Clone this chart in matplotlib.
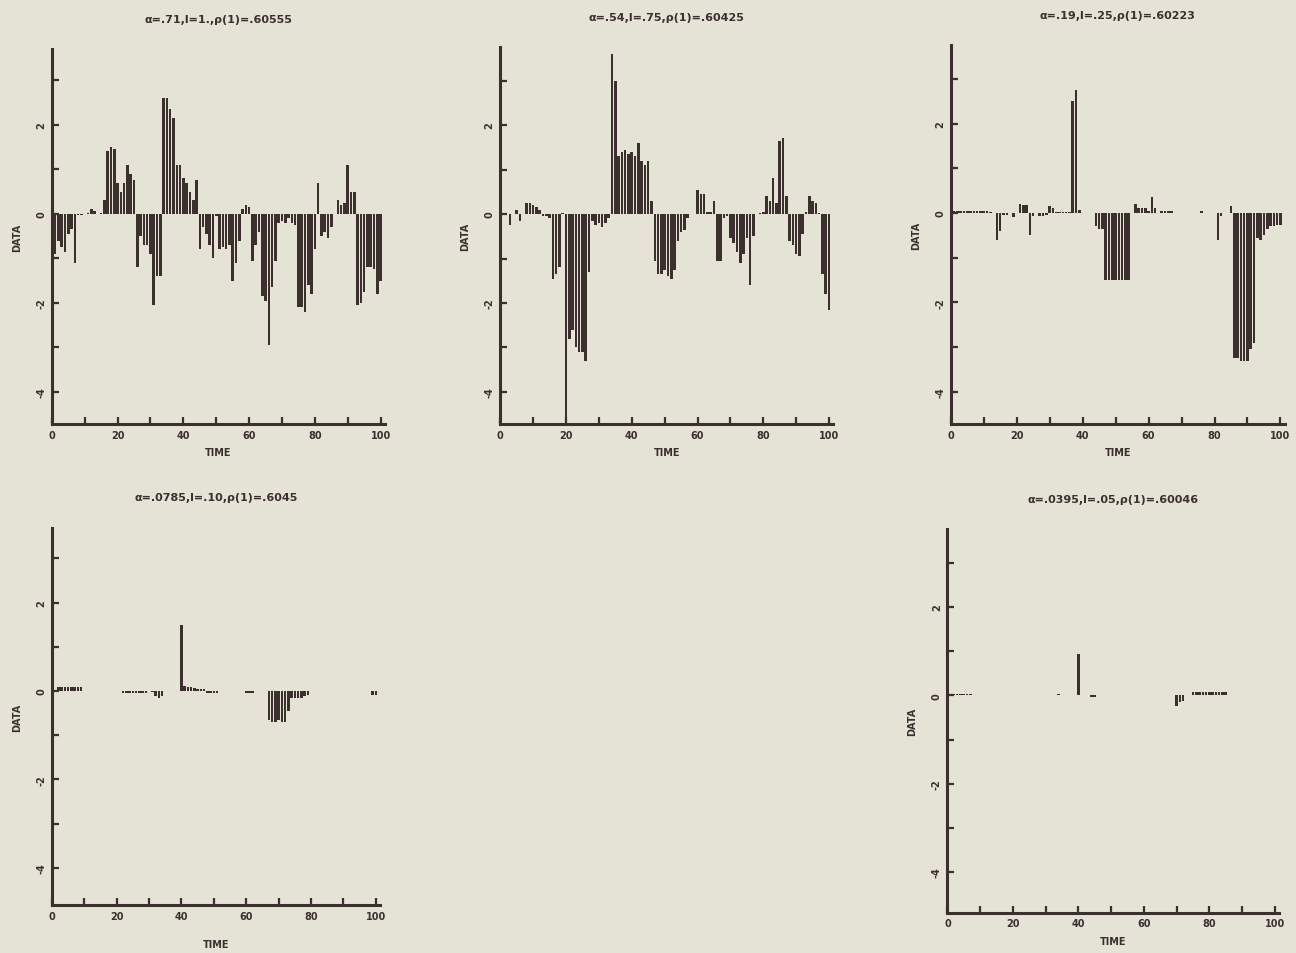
import matplotlib
matplotlib.use("Agg")
import matplotlib.pyplot as plt
from matplotlib.ticker import MultipleLocator

# ---- data -----------------------------------------------------------------
TIME = list(range(1, 101))

TITLES = [
    "α=.71,l=1.,ρ(1)=.60555",
    "α=.54,l=.75,ρ(1)=.60425",
    "α=.19,l=.25,ρ(1)=.60223",
    "α=.0785,l=.10,ρ(1)=.6045",
    "α=.0395,l=.05,ρ(1)=.60046",
]

SERIES_1 = [
    -0.90, -0.60, -0.75, -0.85, -0.45, -0.35, -1.10, -0.03, -0.03, 0.00,
    0.03, 0.10, 0.06, 0.00, 0.03, 0.30, 1.40, 1.50, 1.45, 0.70,
    0.50, 0.70, 1.10, 0.90, 0.75, -1.20, -0.50, -0.70, -0.70, -0.90,
    -2.05, -1.40, -1.40, 2.60, 2.60, 2.35, 2.15, 1.10, 1.10, 0.80,
    0.70, 0.50, 0.30, 0.75, -0.80, -0.30, -0.45, -0.70, -1.00, -0.05,
    -0.80, -0.75, -0.80, -0.70, -1.50, -1.10, -0.60, 0.10, 0.20, 0.15,
    -1.05, -0.70, -0.40, -1.85, -1.95, -2.95, -1.65, -1.05, -0.20, -0.15,
    -0.20, -0.10, -0.20, -0.25, -2.10, -2.10, -2.20, -1.60, -1.80, -0.80,
    0.70, -0.50, -0.40, -0.55, -0.30, 0.00, 0.30, 0.20, 0.25, 1.10,
    0.50, 0.50, -2.05, -2.00, -1.75, -1.20, -1.20, -1.25, -1.80, -1.50,
]

SERIES_2 = [
    0.00, 0.00, -0.25, 0.00, 0.10, -0.15, 0.00, 0.25, 0.25, 0.20,
    0.15, 0.10, -0.05, -0.05, -0.10, -1.45, -1.35, -1.20, 0.03, -4.70,
    -2.80, -2.60, -3.00, -3.10, -3.10, -3.30, -1.30, -0.15, -0.25, -0.20,
    -0.30, -0.20, -0.10, 3.60, 3.00, 1.30, 1.40, 1.45, 1.35, 1.40,
    1.30, 1.60, 1.20, 1.10, 1.20, 0.30, -1.05, -1.35, -1.35, -1.25,
    -1.40, -1.45, -1.25, -0.60, -0.40, -0.35, -0.10, 0.00, 0.00, 0.55,
    0.45, 0.45, 0.05, 0.05, 0.30, -1.05, -1.05, -0.10, -0.05, -0.55,
    -0.65, -0.85, -1.10, -0.90, -0.55, -1.60, -0.50, 0.00, 0.03, 0.05,
    0.40, 0.30, 0.80, 0.25, 1.65, 1.70, 0.40, -0.60, -0.70, -0.90,
    -0.95, -0.45, 0.05, 0.40, 0.30, 0.25, 0.03, -1.35, -1.80, -2.15,
]

SERIES_3 = [
    0.05, 0.05, 0.05, 0.05, 0.05, 0.05, 0.05, 0.05, 0.05, 0.05,
    0.05, 0.03, 0.00, -0.60, -0.40, -0.05, -0.05, 0.00, -0.10, 0.00,
    0.20, 0.18, 0.17, -0.50, -0.07, 0.00, -0.07, -0.07, -0.05, 0.15,
    0.12, 0.03, 0.03, 0.03, 0.03, 0.03, 2.50, 2.75, 0.06, 0.00,
    0.00, 0.00, 0.00, -0.30, -0.35, -0.35, -1.50, -1.50, -1.50, -1.50,
    -1.50, -1.50, -1.50, -1.50, 0.00, 0.20, 0.10, 0.10, 0.10, 0.05,
    0.35, 0.10, 0.00, 0.05, 0.05, 0.05, 0.05, 0.00, 0.00, 0.00,
    0.00, 0.00, 0.00, 0.00, 0.00, 0.04, 0.00, 0.00, 0.00, 0.00,
    -0.60, -0.07, 0.00, 0.00, 0.15, -3.25, -3.25, -3.30, -3.30, -3.30,
    -3.05, -2.90, -0.55, -0.60, -0.50, -0.35, -0.30, -0.30, -0.28, -0.28,
]

SERIES_4 = [
    0.00, 0.08, 0.10, 0.10, 0.08, 0.10, 0.10, 0.10, 0.10, 0.00,
    0.00, 0.00, 0.00, 0.00, 0.00, 0.00, 0.00, 0.00, 0.00, 0.00,
    0.00, -0.04, -0.04, -0.04, -0.04, -0.04, -0.04, -0.04, -0.04, 0.00,
    -0.03, -0.12, -0.15, -0.12, 0.00, 0.00, 0.00, 0.00, 0.00, 1.50,
    0.12, 0.10, 0.08, 0.06, 0.05, 0.04, 0.04, -0.04, -0.04, -0.04,
    -0.04, 0.00, 0.00, 0.00, 0.00, 0.00, 0.00, 0.00, 0.00, -0.05,
    -0.05, -0.05, 0.00, 0.00, 0.00, 0.00, -0.65, -0.70, -0.70, -0.65,
    -0.70, -0.70, -0.45, -0.15, -0.15, -0.15, -0.15, -0.12, -0.10, 0.00,
    0.00, 0.00, 0.00, 0.00, 0.00, 0.00, 0.00, 0.00, 0.00, 0.00,
    0.00, 0.00, 0.00, 0.00, 0.00, 0.00, 0.00, 0.00, -0.08, -0.08,
]

SERIES_5 = [
    0.00, 0.04, 0.04, 0.04, 0.04, 0.04, 0.04, 0.00, 0.00, 0.00,
    0.00, 0.00, 0.00, 0.00, 0.00, 0.00, 0.00, 0.00, 0.00, 0.00,
    0.00, 0.00, 0.00, 0.00, 0.00, 0.00, 0.00, 0.00, 0.00, 0.00,
    0.00, 0.00, 0.00, 0.04, 0.00, 0.00, 0.00, 0.00, 0.00, 0.93,
    0.00, 0.00, 0.00, -0.04, -0.04, 0.00, 0.00, 0.00, 0.00, 0.00,
    0.00, 0.00, 0.00, 0.00, 0.00, 0.00, 0.00, 0.00, 0.00, 0.00,
    0.00, 0.00, 0.00, 0.00, 0.00, 0.00, 0.00, 0.00, 0.00, -0.25,
    -0.15, -0.12, 0.00, 0.00, 0.07, 0.07, 0.07, 0.07, 0.07, 0.07,
    0.07, 0.07, 0.07, 0.07, 0.07, 0.00, 0.00, 0.00, 0.00, 0.00,
    0.00, 0.00, 0.00, 0.00, 0.00, 0.00, 0.00, 0.00, 0.00, 0.00,
]

SERIES = [SERIES_1, SERIES_2, SERIES_3, SERIES_4, SERIES_5]

# ---- layout (figure fractions) and look -----------------------------------
RECTS = [
    (0.040, 0.5545, 0.257, 0.393),
    (0.386, 0.5545, 0.257, 0.395),
    (0.7336, 0.5545, 0.2577, 0.397),
    (0.040, 0.050, 0.2533, 0.396),
    (0.731, 0.0422, 0.256, 0.402),
]
YLIMS = [(-4.72, 3.7), (-4.72, 3.75), (-4.72, 3.75), (-4.85, 3.7), (-4.92, 3.76)]
XLABEL_Y = [-0.062, -0.062, -0.062, -0.088, -0.060]

PAPER = "#e4e3d6"
INK = "#3b302e"

plt.rcParams["font.family"] = ["DejaVu Sans"]
plt.rcParams["font.weight"] = "bold"

fig = plt.figure(figsize=(12.96, 9.54), dpi=100, facecolor=PAPER)

for i, rect in enumerate(RECTS):
    ax = fig.add_axes(rect)
    ax.set_facecolor(PAPER)
    ax.bar(TIME, SERIES[i], width=0.78, color=INK, linewidth=0)
    ax.set_xlim(0, 101.3)
    ax.set_ylim(*YLIMS[i])

    for side in ("top", "right"):
        ax.spines[side].set_visible(False)
    for side in ("left", "bottom"):
        ax.spines[side].set_linewidth(2.2)
        ax.spines[side].set_color(INK)

    ax.xaxis.set_major_locator(MultipleLocator(20))
    ax.xaxis.set_minor_locator(MultipleLocator(10))
    ax.yaxis.set_major_locator(MultipleLocator(2))
    ax.yaxis.set_minor_locator(MultipleLocator(1))
    ax.tick_params(which="both", direction="in", length=5, width=1.6,
                   color=INK, labelcolor=INK, labelsize=7)
    ax.tick_params(axis="y", which="major", labelrotation=90, pad=4)
    ax.tick_params(axis="x", which="major", pad=4)
    ax.set_xticks([0, 20, 40, 60, 80, 100])
    ax.set_xticklabels(["0", "20", "40", "60", "80", "100"], fontweight="bold")
    ax.set_yticks([-4, -2, 0, 2])
    ax.set_yticklabels(["-4", "-2", "0", "2"], fontweight="bold", va="center")

    ax.set_xlabel("TIME", fontsize=7, fontweight="bold", color=INK)
    ax.xaxis.set_label_coords(0.5, XLABEL_Y[i])
    ax.set_ylabel("DATA", fontsize=7, fontweight="bold", color=INK)
    ax.yaxis.set_label_coords(-0.09, 0.5)

    ax.text(0.5, 1.08, TITLES[i], transform=ax.transAxes, ha="center",
            va="center", fontsize=8, fontweight="bold", color=INK)

fig.savefig("out.png", dpi=100, facecolor=PAPER)
